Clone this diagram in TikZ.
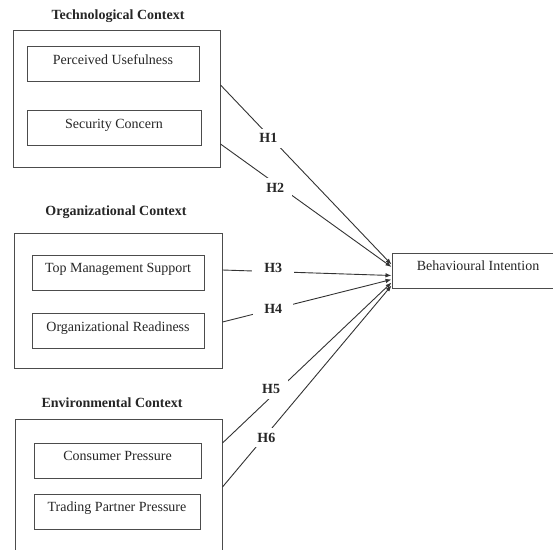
\documentclass[tikz,border=0pt]{standalone}
\usepackage{fontspec}
\setmainfont{Liberation Serif}
\usepackage{tikz}
\usetikzlibrary{arrows.meta,positioning,calc}
\newcommand{\figfont}{\fontsize{14pt}{16pt}\selectfont}

\begin{document}
\begin{tikzpicture}[x=1pt,y=-1pt,
	outbox/.style={draw=black!70,line width=1pt,inner sep=0pt},
	inbox/.style={draw=black!70,line width=1pt,minimum height=35pt,text height=10pt,text depth=10pt,inner sep=0pt,font=\figfont,text=black!85},
	ctx/.style={anchor=base,font=\figfont\bfseries,text=black!85},
	hyp/.style={fill=white,inner xsep=8pt,inner ysep=5pt,font=\figfont\bfseries,text=black!85},
	conn/.style={-{Latex[length=6pt,width=4.5pt]},draw=black!80,line width=0.9pt}]
	\clip (0,0) rectangle (553,549);
	\node[ctx] (techtitle) at (118,19.5) {Technological Context};
	\node[outbox,minimum width=207pt,minimum height=137pt] (tech) at (116.5,98.5) {};
	\node[inbox,minimum width=172pt] (pu) at (113,64) {Perceived Usefulness};
	\node[inbox,minimum width=174pt] (sc) at (114,128) {Security Concern};
	\node[ctx] (orgtitle) at (116,215) {Organizational Context};
	\node[outbox,minimum width=208pt,minimum height=135pt] (org) at (118,300.5) {};
	\node[inbox,minimum width=172pt] (tms) at (118,272.5) {Top Management Support};
	\node[inbox,minimum width=172pt] (ordy) at (118,331) {Organizational Readiness};
	\node[ctx] (envtitle) at (112,407) {Environmental Context};
	\node[outbox,minimum width=207pt,minimum height=151pt] (env) at (118.5,494.5) {};
	\node[inbox,minimum width=167pt] (cp) at (117.5,460.5) {Consumer Pressure};
	\node[inbox,minimum width=166pt] (tpp) at (117,511.5) {Trading Partner Pressure};
	\node[inbox,minimum width=172pt] (bi) at (478,270.5) {Behavioural Intention};
	\draw[conn] ([yshift=13.5pt]tech.east) -- node[hyp,pos=.28,yshift=-3pt] {H1} ([yshift=6pt]bi.west);
	\draw[conn] ([yshift=-45.5pt]tech.east) -- node[hyp,pos=.32,yshift=-4pt] {H2} ([yshift=3.5pt]bi.west);
	\draw[conn] ([yshift=30.5pt]org.east) -- node[hyp,pos=.3,inner xsep=12pt,yshift=4pt] {H3} ([yshift=-5pt]bi.west);
	\draw[conn] ([yshift=-21.5pt]org.east) -- node[hyp,pos=.3,inner xsep=11pt] {H4} ([yshift=-9pt]bi.west);
	\draw[conn] ([yshift=51.5pt]env.east) -- node[hyp,pos=.335,xshift=-8pt] {H5} ([yshift=-12pt]bi.west);
	\draw[conn] ([yshift=7.5pt]env.east) -- node[hyp,pos=.26,yshift=-3pt] {H6} ([yshift=-15pt]bi.west);
\end{tikzpicture}
\end{document}
